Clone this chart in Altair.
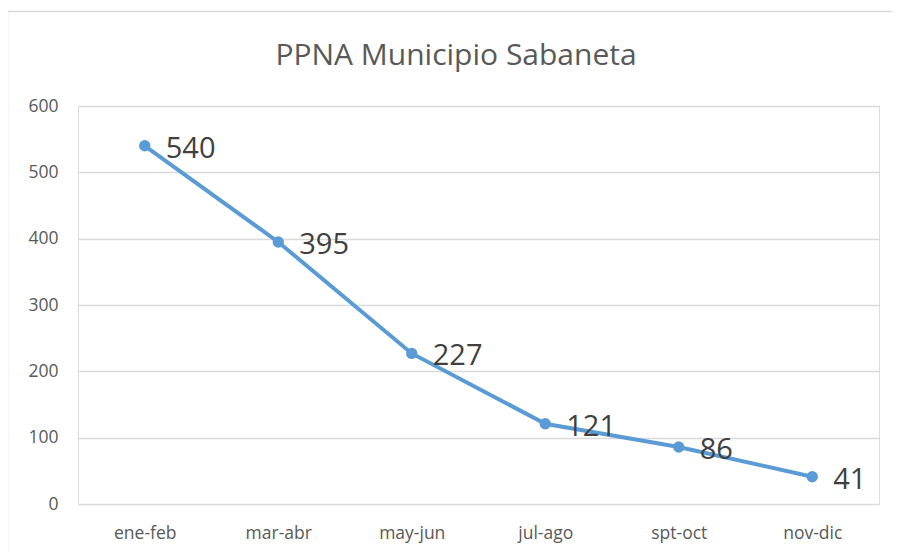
import altair as alt
import pandas as pd

periods = ["ene-feb", "mar-abr", "may-jun", "jul-ago", "spt-oct", "nov-dic"]
values = [540, 395, 227, 121, 86, 41]
title_text = "PPNA Municipio Sabaneta"

df = pd.DataFrame({"periodo": periods, "valor": values})

FONT = "Open Sans"
BLUE = "#5B9BD5"

x = alt.X("periodo:N", sort=periods, title=None,
          scale=alt.Scale(paddingInner=0, paddingOuter=0.5),
          axis=alt.Axis(labelAngle=0, ticks=False, domain=False, labelPadding=20,
                        labelFontSize=17.5, labelColor="#595959", labelFont=FONT, grid=False))
y = alt.Y("valor:Q", title=None,
          scale=alt.Scale(domain=[0, 600], nice=False),
          axis=alt.Axis(values=[0, 100, 200, 300, 400, 500, 600], ticks=False, domain=False,
                        labelPadding=20, labelFontSize=17.5, labelColor="#595959", labelFont=FONT,
                        gridColor="#d9d9d9", gridWidth=1.5))

base = alt.Chart(df)

line = base.mark_line(color=BLUE, strokeWidth=4).encode(x=x, y=y)
pts = base.mark_circle(color=BLUE, size=130, opacity=1).encode(x=x, y=y)
labels = base.mark_text(align="left", baseline="middle", dx=21, dy=3, fontSize=29,
                        font=FONT, color="#404040").encode(x=x, y=y, text="valor:Q")

title = alt.Chart(pd.DataFrame({"t": [title_text]})).mark_text(
    fontSize=30, font=FONT, color="#595959", align="center", baseline="alphabetic"
).encode(text="t:N", x=alt.value(378), y=alt.value(-41))

border = alt.Chart(pd.DataFrame({"a": [0]})).mark_rect(
    fill=None, stroke="#d9d9d9", strokeWidth=1.5, clip=False
).encode(x=alt.value(-70.5), x2=alt.value(840), y=alt.value(-94.5), y2=alt.value(470))

chart = alt.layer(border, line, pts, labels, title).properties(
    width=801, height=398,
    autosize=alt.AutoSizeParams(type="none"),
    padding={"left": 70, "top": 98, "right": 13, "bottom": 47},
).configure_view(stroke=None).configure(background="white")

chart.save("out.html", embed_options={"renderer": "svg", "actions": False})
